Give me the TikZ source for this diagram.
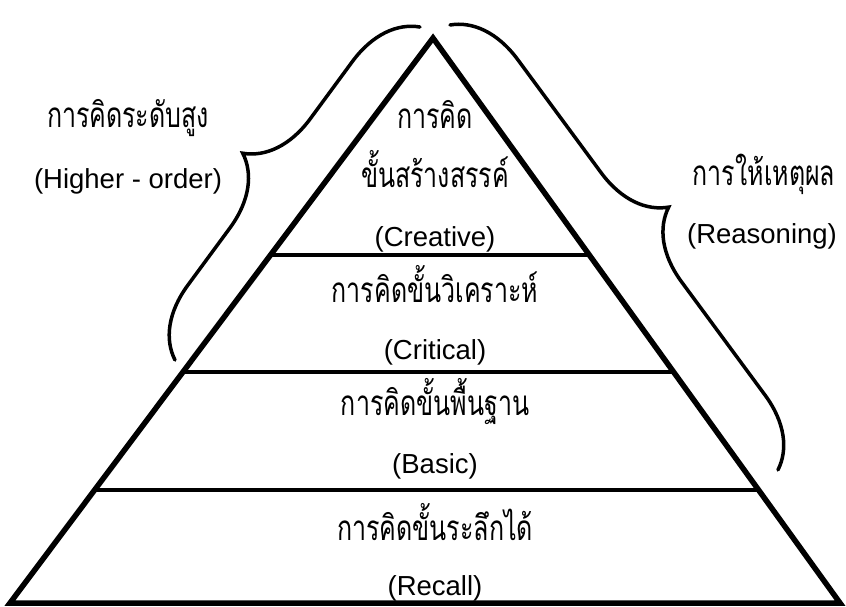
\documentclass[tikz,border=0pt]{standalone}
\usepackage{fontspec}
\setmainfont{Liberation Sans}
\newfontfamily\thaifont[Script=Thai]{Loma}
\usetikzlibrary{calc,decorations.pathreplacing}
\tikzset{
	thai/.style={anchor=base, inner sep=0pt, yscale=1.4, transform shape, font=\thaifont\fontsize{25}{30}\selectfont},
	latin/.style={anchor=base, inner sep=0pt, font=\fontsize{27.5}{33}\selectfont},
	layer/.style={line width=4pt},
	bigbrace/.style={decorate, decoration={brace, amplitude=68pt}, line width=3.5pt, line cap=round}
}
\begin{document}
\begin{tikzpicture}[x=1pt, y=-1pt]
	\useasboundingbox (0,0) rectangle (846,606);
	\coordinate (top) at (433,38);
	\coordinate (bl)  at (10,603);
	\coordinate (br)  at (840,603);
	\draw[line width=5.5pt] (bl) -- (top) -- (br) -- cycle;
	\draw[layer] ($(bl)!.616!(top)$) -- ($(br)!.616!(top)$);
	\draw[layer] ($(bl)!.409!(top)$) -- ($(br)!.409!(top)$);
	\draw[layer] ($(bl)!.2!(top)$)   -- ($(br)!.2!(top)$);
	%klammern
	\draw[bigbrace] (175,360) -- (420,27);
	\draw[bigbrace] (450,25)  -- (778,470);
	%texte
	\node[thai]  (high-th)     at (128,127) {การคิดระดับสูง};
	\node[latin] (high-en)     at (128,188) {(Higher - order)};
	\node[thai]  (creative-th) at (435,128) {การคิด};
	\node[thai]  (creative-tb) at (435,187) {ขั้นสร้างสรรค์};
	\node[latin] (creative-en) at (435,246) {(Creative)};
	\node[thai]  (critical-th) at (435,302) {การคิดขั้นวิเคราะห์};
	\node[latin] (critical-en) at (435,359) {(Critical)};
	\node[thai]  (basic-th)    at (435,415) {การคิดขั้นพื้นฐาน};
	\node[latin] (basic-en)    at (435,473) {(Basic)};
	\node[thai]  (recall-th)   at (435,540) {การคิดขั้นระลึกได้};
	\node[latin] (recall-en)   at (435,595) {(Recall)};
	\node[thai]  (reason-th)   at (764,185) {การให้เหตุผล};
	\node[latin] (reason-en)   at (762,243) {(Reasoning)};
\end{tikzpicture}
\end{document}
